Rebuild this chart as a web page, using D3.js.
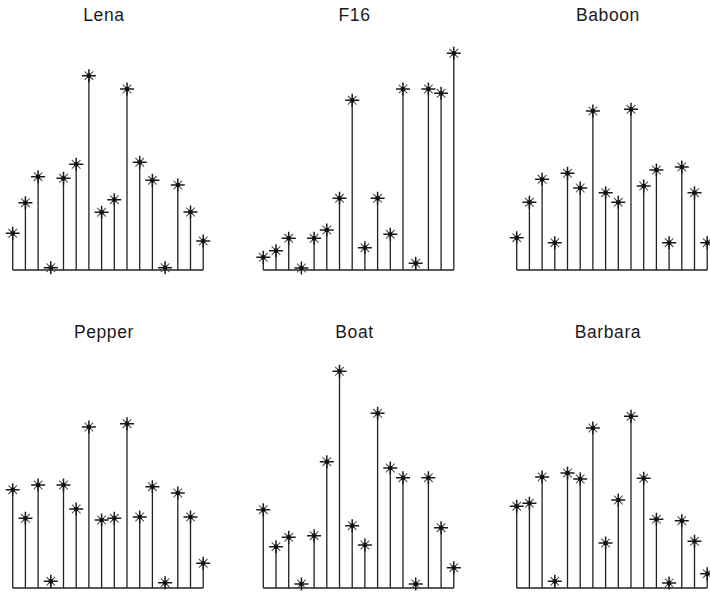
<!DOCTYPE html>
<html>
<head>
<meta charset="utf-8">
<script src="https://cdn.jsdelivr.net/npm/d3@7"></script>
<style>
  body { margin: 0; background: #fff; }
  svg { display: block; }
  .title { font-family: "Liberation Sans", Arial, sans-serif; font-size: 17.5px; letter-spacing: 0.6px; fill: #1a1a1a; }
</style>
</head>
<body>
<script>
// stem plots, one per test image
var width = 710,
    height = 594;

// x positions (coefficient index)
var index = [1, 2, 3, 4, 5, 6, 7, 8, 9, 10, 11, 12, 13, 14, 15, 16];

// values for each image
var names = ["Lena", "F16", "Baboon", "Pepper", "Boat", "Barbara"];
var lena    = [36.7, 67.3, 93.3, 2.3, 91.7, 105.7, 194.3, 57.7, 70.3, 181, 107.7, 89.7, 2.3, 85, 58, 29];
var f16     = [12.7, 19.3, 31.7, 2, 31.7, 40, 71.7, 169.7, 22.3, 71.7, 35.7, 181, 6.7, 181, 176.7, 216.7];
var baboon  = [32.3, 67.7, 90.7, 27.3, 96.7, 82, 159, 77.3, 67.7, 160.7, 84, 100, 27.3, 103, 77.3, 27.3];
var pepper  = [98.3, 69.7, 103, 6.7, 103, 79, 161, 68, 69.7, 164.3, 71, 101.3, 5.3, 95, 71, 24.7];
var boat    = [78.3, 41.3, 50.7, 4, 52.3, 126.3, 216.7, 62.3, 43, 174.7, 120, 110.3, 4, 110.3, 60.3, 20.3];
var barbara = [81.7, 84.7, 111, 6.7, 115, 109, 160, 45, 88, 171.7, 109.7, 68.7, 5, 67.3, 46.7, 14.3];

var series = [lena, f16, baboon, pepper, boat, barbara];

var svg = d3.select("body")
    .append("svg")
    .attr("width", width)
    .attr("height", height);

svg.append("rect")
    .attr("width", width)
    .attr("height", height)
    .attr("fill", "#fff");

var colLeft = [12.7, 263.3, 516.7],
    panelW = 190.5,
    rowBase = [270, 588],
    panelH = 240,
    titleY = [20.5, 338];

series.forEach(function(vals, i){
    var col = i % 3,
        row = Math.floor(i / 3);

    var x = d3.scaleLinear()
        .domain([1, 16])
        .range([colLeft[col], colLeft[col] + panelW]);
    var y = d3.scaleLinear()
        .domain([0, 240])
        .range([rowBase[row], rowBase[row] - panelH]);

    var g = svg.append("g").attr("class", "panel " + names[i]);

    // title
    g.append("text")
        .attr("class", "title")
        .attr("x", colLeft[col] + panelW / 2 - 4)
        .attr("y", titleY[row])
        .attr("text-anchor", "middle")
        .text(names[i]);

    var pts = index.map(function(k, j){ return {k: k, v: vals[j]}; });

    // stems
    g.selectAll(".stem")
        .data(pts)
        .enter()
        .append("line")
        .attr("class", "stem")
        .attr("x1", function(d){ return x(d.k); })
        .attr("x2", function(d){ return x(d.k); })
        .attr("y1", y(0))
        .attr("y2", function(d){ return y(d.v); })
        .attr("stroke", "#222")
        .attr("stroke-width", 1.3);

    // baseline
    g.append("line")
        .attr("x1", x(1))
        .attr("x2", x(16))
        .attr("y1", y(0))
        .attr("y2", y(0))
        .attr("stroke", "#222")
        .attr("stroke-width", 1.3);

    // asterisk markers
    var m = g.selectAll(".mark")
        .data(pts)
        .enter()
        .append("g")
        .attr("class", "mark")
        .attr("transform", function(d){ return "translate(" + x(d.k) + "," + y(d.v) + ")"; });

    m.append("path")
        .attr("d", "M-4.3,-4.3L4.3,4.3M-4.3,4.3L4.3,-4.3")
        .attr("stroke", "#555")
        .attr("stroke-width", 1.1);
    m.append("path")
        .attr("d", "M-7,0H7M0,-6.5V6.5")
        .attr("stroke", "#1a1a1a")
        .attr("stroke-width", 1.5);
    m.append("rect")
        .attr("x", -2)
        .attr("y", -2)
        .attr("width", 4)
        .attr("height", 4)
        .attr("fill", "#111");
});
</script>
</body>
</html>
